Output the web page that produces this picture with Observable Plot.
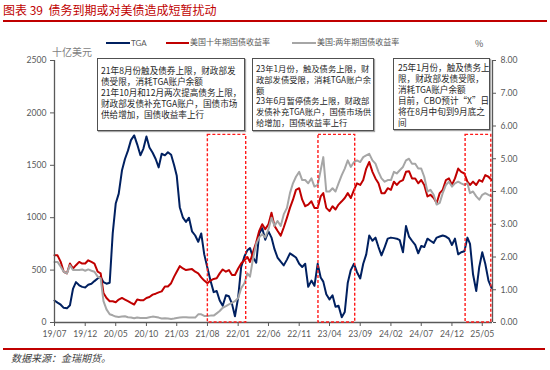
<!DOCTYPE html>
<html><head><meta charset="utf-8">
<script src="https://cdn.jsdelivr.net/npm/d3@7"></script>
<script src="https://cdn.jsdelivr.net/npm/@observablehq/plot@0.6"></script>
<style>
body{margin:0;background:#fff;}
#wrap{position:relative;width:550px;height:370px;overflow:hidden;font-family:"Noto Sans CJK SC",sans-serif;}
#chart{position:absolute;left:0;top:0;}
.abs{position:absolute;white-space:nowrap;}
.box{position:absolute;box-sizing:border-box;border:1px solid #505050;box-shadow:1px 1px 1px rgba(0,0,0,0.35);background:#fff;font-size:8.6px;line-height:11px;color:#262626;padding-left:3px;white-space:nowrap;overflow:hidden;}
.lg{position:absolute;height:2px;}
.lgt{position:absolute;font-size:8px;color:#595959;white-space:nowrap;line-height:10px;}
</style></head><body>
<div id="wrap">
  <div class="abs" style="left:3px;top:2px;font-size:12px;line-height:15px;color:#C00000;">图表 39&nbsp;&nbsp;债务到期或对美债造成短暂扰动</div>
  <div class="abs" style="left:3px;top:20px;width:544px;height:1.5px;background:#C00000;"></div>
  <div id="chart"></div>
  <div class="lg" style="left:106px;top:42px;width:24px;background:#002060;"></div>
  <div class="lgt" style="left:131px;top:38px;font-family:Lato,sans-serif;">TGA</div>
  <div class="lg" style="left:166px;top:42px;width:23px;background:#C00000;"></div>
  <div class="lgt" style="left:190px;top:37px;">美国十年期国债收益率</div>
  <div class="lg" style="left:292px;top:42px;width:24px;background:#A6A6A6;"></div>
  <div class="lgt" style="left:317px;top:37px;">美国:两年期国债收益率</div>
  <div class="abs" style="left:52px;top:45px;font-size:10px;line-height:13px;color:#7f7f7f;">十亿美元</div>
  <div class="abs" style="left:475px;top:38px;font-size:9px;line-height:11px;color:#595959;">%</div>
  <div class="box" style="left:97px;top:58px;width:148px;height:73px;padding-top:6px;">21年8月份触及债券上限，财政部发<br>债受限，消耗TGA账户余额<br>21年10月和12月两次提高债务上限，<br>财政部发债补充TGA账户，国债市场<br>供给增加，国债收益率上行</div>
  <div class="box" style="left:252px;top:58px;width:122px;height:73px;padding-top:4px;padding-left:3px;font-size:8.3px;line-height:10.8px;">23年1月份，触及债务上限，财<br>政部发债受限，消耗TGA账户余<br>额<br>23年6月暂停债务上限，财政部<br>发债补充TGA账户，国债市场供<br>给增加，国债收益率上行</div>
  <div class="box" style="left:393px;top:58px;width:97px;height:72px;padding-top:3px;padding-left:4px;">25年1月份，触及债务上<br>限，财政部发债受限，<br>消耗TGA账户余额<br>目前，CBO预计“X”日<br>将在8月中旬到9月底之<br>间</div>
  <div class="abs" style="left:3px;top:348px;width:542px;height:1.5px;background:#C00000;"></div>
  <div class="abs" style="left:11px;top:351px;font-size:10px;line-height:13px;font-style:italic;color:#404040;">数据来源：金瑞期货。</div>
</div>
<script>
// semi-monthly observations (1st and 16th of each month) starting 2019-07
const startYear = 2019, startMonthIndex = 6;
const tgaValues = [
210,190,170,140,135,165,320,385,355,340,335,360,370,395,420,435,385,370,380,850,
1135,1230,1450,1560,1640,1740,1785,1700,1595,1660,1775,1670,1620,1560,1480,1610,1595,1625,1600,1500,
1400,1100,1000,960,1000,870,830,770,850,650,520,400,290,300,210,160,260,250,180,60,
240,530,630,690,710,620,570,850,900,790,870,810,700,620,580,545,600,660,640,620,
560,530,560,340,400,350,560,430,390,270,220,260,150,160,50,100,380,500,560,480,
420,560,650,830,780,810,720,640,720,800,810,805,800,785,670,920,820,780,740,660,
730,720,800,780,760,810,820,830,820,800,740,800,650,670,680,810,750,460,300,530,
670,560,400,330];
const tenYearYield = [
2.05,2.05,1.85,1.55,1.50,1.80,1.65,1.75,1.85,1.80,1.80,1.90,1.85,1.80,1.55,1.50,0.90,0.75,0.65,0.65,
0.62,0.70,0.75,0.70,0.65,0.60,0.55,0.70,0.68,0.68,0.75,0.78,0.85,0.88,0.92,0.95,1.10,1.10,1.20,1.40,
1.55,1.72,1.65,1.60,1.62,1.63,1.55,1.50,1.38,1.28,1.20,1.28,1.33,1.35,1.50,1.62,1.55,1.60,1.45,1.45,
1.65,1.80,1.90,2.00,1.85,2.15,2.45,2.80,3.00,2.85,3.00,3.35,2.95,2.80,2.65,2.90,3.20,3.50,3.75,4.05,
4.10,3.75,3.55,3.60,3.70,3.50,3.50,3.85,3.95,3.50,3.40,3.55,3.45,3.60,3.70,3.80,3.95,3.80,4.05,4.25,
4.20,4.35,4.70,4.90,4.60,4.40,4.25,3.95,3.95,4.10,4.05,4.30,4.20,4.30,4.35,4.60,4.62,4.40,4.40,4.25,
4.35,4.20,3.85,3.90,3.80,3.65,3.95,4.05,4.35,4.40,4.20,4.40,4.70,4.60,4.55,4.30,4.20,4.30,4.20,4.35,
4.30,4.50,4.45,4.35];
const twoYearYield = [
1.85,1.85,1.70,1.55,1.50,1.75,1.60,1.60,1.60,1.62,1.58,1.62,1.58,1.55,1.40,1.35,0.65,0.40,0.25,0.22,
0.18,0.17,0.18,0.19,0.16,0.15,0.13,0.15,0.14,0.14,0.14,0.16,0.18,0.17,0.15,0.12,0.13,0.12,0.11,0.12,
0.14,0.15,0.16,0.16,0.15,0.15,0.15,0.25,0.25,0.20,0.20,0.21,0.21,0.28,0.35,0.45,0.50,0.55,0.60,0.65,
0.75,1.05,1.20,1.50,1.40,1.95,2.40,2.60,2.70,2.60,2.85,3.20,2.95,3.10,2.95,3.30,3.50,3.95,4.25,4.45,
4.60,4.35,4.35,4.25,4.40,4.15,4.20,4.65,5.05,4.00,4.00,4.10,4.00,4.25,4.50,4.70,4.95,4.75,4.90,4.95,
4.90,5.05,5.10,5.15,4.95,4.85,4.60,4.40,4.30,4.35,4.35,4.60,4.55,4.65,4.75,4.95,5.00,4.85,4.85,4.70,
4.70,4.45,4.00,4.05,3.90,3.60,3.65,3.95,4.20,4.30,4.15,4.25,4.30,4.25,4.20,4.25,3.95,4.00,3.85,3.75,
3.90,3.95,3.90,3.85];
const xTickLabels = ["19/07","19/12","20/05","20/10","21/03","21/08","22/01","22/06","22/11","23/04","23/09","24/02","24/07","24/12","25/05"];
const leftTicks = [0,500,1000,1500,2000,2500];
const rightTicks = [0,1,2,3,4,5,6,7,8];
const periodStart = ["2021-08-03","2023-02-05","2025-02-07"];
const periodEnd = ["2022-02-10","2023-08-07","2025-06-15"];
const periodTop = 1790;

const leftMax = 2500, rightMax = 8, k = leftMax / rightMax;
const dateOf = i => new Date(Date.UTC(startYear, startMonthIndex + Math.floor(i / 2), i % 2 ? 16 : 1));
const tga = tgaValues.map((v, i) => ({date: dateOf(i), v}));
const ten = tenYearYield.map((v, i) => ({date: dateOf(i), v: v * k}));
const two = twoYearYield.map((v, i) => ({date: dateOf(i), v: v * k}));
const parseTick = d3.utcParse("%y/%m");
const tickDates = xTickLabels.map(parseTick);
const periods = periodStart.map((s, i) => ({x1: new Date(s), x2: new Date(periodEnd[i]), y1: 0, y2: periodTop}));
const x0 = new Date(Date.UTC(2019, 6, 1)), x1 = new Date(Date.UTC(2025, 5, 21));
const axisColor = "#595959";

const chart = Plot.plot({
  width: 550, height: 350,
  marginLeft: 54, marginRight: 58, marginTop: 60, marginBottom: 28,
  style: {fontFamily: "Lato, 'Open Sans', sans-serif", fontSize: "8.6px", color: axisColor, background: "transparent"},
  x: {type: "utc", domain: [x0, x1]},
  y: {domain: [0, leftMax]},
  marks: [
    Plot.axisY({ticks: leftTicks, tickSize: 4, tickPadding: 4, label: null, tickFormat: d => String(d), color: axisColor}),
    Plot.axisY({anchor: "right", ticks: rightTicks.map(t => t * k), tickSize: 3, tickPadding: 5, label: null,
      tickFormat: d => (d / k).toFixed(2), color: axisColor}),
    Plot.axisX({ticks: tickDates, tickSize: 4, tickPadding: 4, label: null, tickFormat: d3.utcFormat("%y/%m"), color: axisColor}),
    Plot.lineY(tga, {x: "date", y: "v", stroke: "#002060", strokeWidth: 2}),
    Plot.lineY(ten, {x: "date", y: "v", stroke: "#C00000", strokeWidth: 2}),
    Plot.lineY(two, {x: "date", y: "v", stroke: "#A6A6A6", strokeWidth: 2}),
    Plot.ruleX([x0], {stroke: axisColor, strokeWidth: 1.3}),
    Plot.ruleX([x1], {stroke: axisColor, strokeWidth: 1.3}),
    Plot.ruleY([0], {stroke: axisColor, strokeWidth: 1.3}),
    Plot.rect(periods, {x1: "x1", x2: "x2", y1: "y1", y2: "y2", fill: "none", stroke: "#FF1A1A", strokeWidth: 1.4, strokeDasharray: "3,2"})
  ]
});
document.getElementById("chart").appendChild(chart);
</script>
</body></html>
